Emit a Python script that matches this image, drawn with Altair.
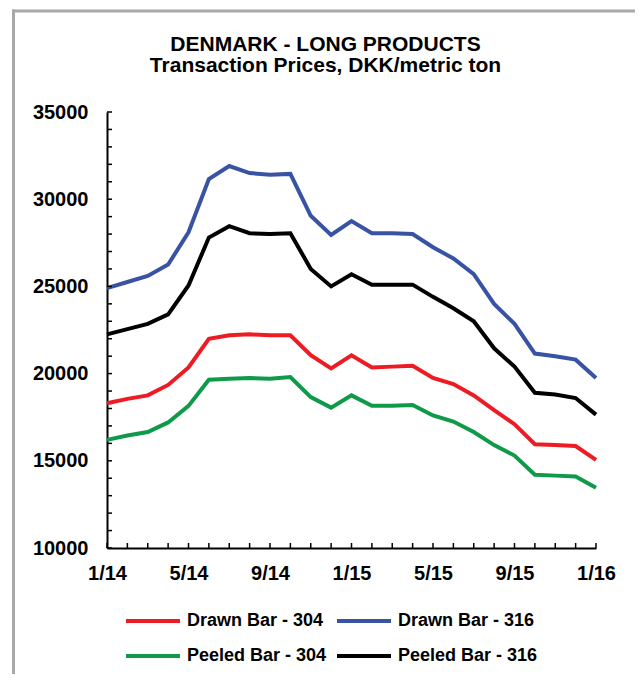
import altair as alt
import pandas as pd

months = ["1/14", "2/14", "3/14", "4/14", "5/14", "6/14", "7/14", "8/14", "9/14", "10/14", "11/14", "12/14",
          "1/15", "2/15", "3/15", "4/15", "5/15", "6/15", "7/15", "8/15", "9/15", "10/15", "11/15", "12/15",
          "1/16"]

drawn_304 = [18300, 18550, 18750, 19350, 20350, 22000, 22200, 22250, 22200, 22200, 21050, 20300, 21050,
             20350, 20400, 20450, 19750, 19400, 18750, 17900, 17100, 15950, 15900, 15850, 15050]
drawn_316 = [24900, 25250, 25600, 26250, 28100, 31150, 31900, 31500, 31400, 31450, 29050, 27950, 28750,
             28050, 28050, 28000, 27250, 26600, 25700, 24000, 22850, 21150, 21000, 20800, 19750]
peeled_304 = [16200, 16450, 16650, 17200, 18150, 19650, 19700, 19750, 19700, 19800, 18650, 18050, 18750,
              18150, 18150, 18200, 17600, 17250, 16650, 15900, 15300, 14200, 14150, 14100, 13450]
peeled_316 = [22250, 22550, 22850, 23400, 25050, 27800, 28450, 28050, 28000, 28050, 26000, 25000, 25700,
              25100, 25100, 25100, 24400, 23750, 23000, 21450, 20400, 18900, 18800, 18600, 17650]

# legend fills column by column, so this order gives rows: 304 pair / 316 pair as in the reference
series_names = ["Drawn Bar - 304", "Peeled Bar - 304", "Drawn Bar - 316", "Peeled Bar - 316"]
series_colors = ["#ED1C24", "#0E9A48", "#3953A4", "#000000"]
series_values = {"Drawn Bar - 304": drawn_304, "Drawn Bar - 316": drawn_316,
                 "Peeled Bar - 304": peeled_304, "Peeled Bar - 316": peeled_316}

x_label_values = ["1/14", "5/14", "9/14", "1/15", "5/15", "9/15", "1/16"]
y_label_values = [10000, 15000, 20000, 25000, 30000, 35000]
y_minor_ticks = list(range(10000, 35001, 1000))

FONT = "Liberation Sans"
W, H = 489, 436

rows = []
for name in series_names:
    for m, v in zip(months, series_values[name]):
        rows.append({"month": m, "series": name, "price": v})
df = pd.DataFrame(rows)

xscale = alt.Scale(type="point", padding=0)
yscale = alt.Scale(domain=[10000, 35000], nice=False, zero=False)
xaxis = alt.Axis(values=x_label_values, labelAngle=0, labelPadding=15)
yaxis = alt.Axis(values=y_label_values, format="d", labelPadding=19)

lines = alt.Chart(df).mark_line(strokeWidth=4).encode(
    x=alt.X("month:O", sort=months, scale=xscale, title=None, axis=xaxis),
    y=alt.Y("price:Q", scale=yscale, title=None, axis=yaxis),
    color=alt.Color("series:N",
                    scale=alt.Scale(domain=series_names, range=series_colors),
                    legend=alt.Legend(title=None, orient="none", legendX=17, legendY=500,
                                      columns=2, symbolType="stroke", symbolSize=2916,
                                      symbolStrokeWidth=4, labelFontSize=18, labelFontWeight="bold",
                                      labelFont=FONT, labelColor="black", labelOffset=5,
                                      clipHeight=18, rowPadding=17, columnPadding=8,
                                      labelLimit=300)),
)

ytick_df = pd.DataFrame({"price": y_minor_ticks})
yticks = alt.Chart(ytick_df).mark_rule(color="black", strokeWidth=1.5).encode(
    y=alt.Y("price:Q", scale=yscale, title=None, axis=yaxis),
    x=alt.value(0), x2=alt.value(5),
)

xtick_df = pd.DataFrame({"month": months})
xticks = alt.Chart(xtick_df).mark_rule(color="black", strokeWidth=1.5).encode(
    x=alt.X("month:O", sort=months, scale=xscale, title=None, axis=xaxis),
    y=alt.value(H), y2=alt.value(H - 5),
)

frame_df = pd.DataFrame({"a": [0]})
frame_top = alt.Chart(frame_df).mark_rule(color="#a8a8a8", strokeWidth=3).encode(
    x=alt.value(-95), x2=alt.value(560), y=alt.value(-101)
)
frame_left = alt.Chart(frame_df).mark_rule(color="#a8a8a8", strokeWidth=3).encode(
    x=alt.value(-93.5), y=alt.value(-102.5), y2=alt.value(600)
)

chart = alt.layer(frame_top, frame_left, lines, yticks, xticks).properties(
    width=W, height=H,
    autosize=alt.AutoSizeParams(type="none"),
    padding={"left": 99, "top": 104, "right": 39, "bottom": 126},
    title=alt.TitleParams(text=["DENMARK - LONG PRODUCTS", "Transaction Prices, DKK/metric ton"],
                          fontSize=21, fontWeight="bold", font=FONT, color="black",
                          anchor="middle", frame="group", dx=-26, offset=0, dy=68, lineHeight=21),
).configure(font=FONT, background="white").configure_axis(
    domainColor="black", domainWidth=2, ticks=False, grid=False,
    labelFont=FONT, labelFontSize=20, labelFontWeight="bold", labelColor="black",
).configure_view(strokeWidth=0)

chart.save("out.html", embed_options={"renderer": "svg", "actions": False})
